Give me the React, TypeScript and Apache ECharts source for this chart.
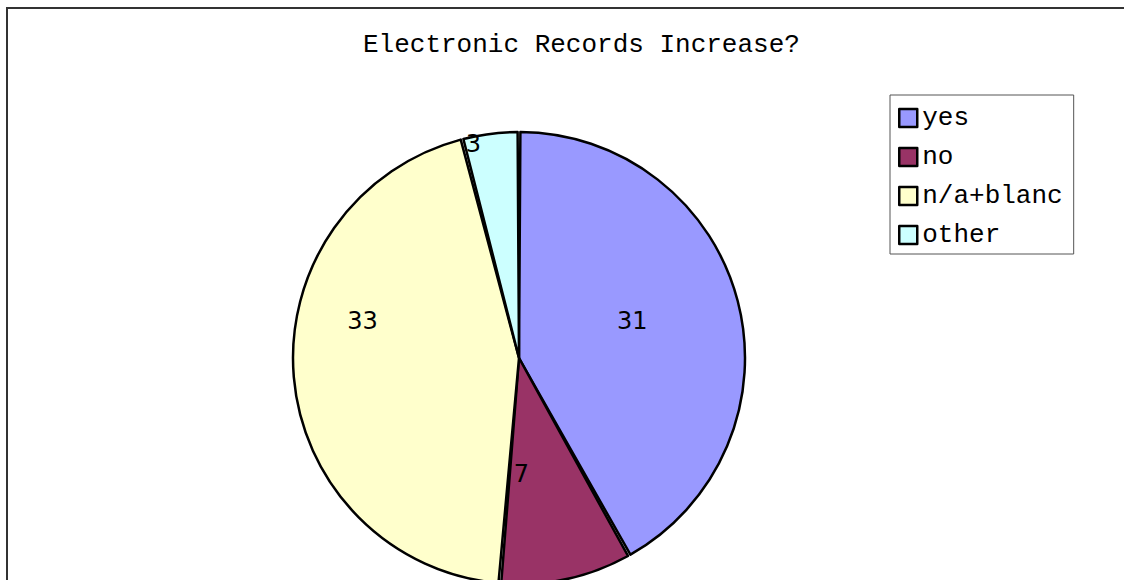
import React, { useEffect, useRef } from "react";
import * as echarts from "echarts";

// Survey answers
const categories = ["yes", "no", "n/a+blanc", "other"];
const counts = [31, 7, 33, 3];
const colors = ["#9999FF", "#993366", "#FFFFCC", "#CCFFFF"];
const titleText = "Electronic Records Increase?";

// Nudges for the value labels away from the default mid-radius spot
const labelNudges = [
  { dx: 1, dy: -8 },
  { dx: -22, dy: 3 },
  { dx: -41, dy: -47 },
  { dx: -31, dy: -99 },
];

const MONO = "'Courier New', 'Liberation Mono', monospace";
const SANS = "'DejaVu Sans', Verdana, sans-serif";

export default function App() {
  const ref = useRef<HTMLDivElement>(null);

  useEffect(() => {
    if (!ref.current) return;
    const chart = echarts.init(ref.current, undefined, { renderer: "svg" });
    chart.setOption({
      animation: false,
      backgroundColor: "#ffffff",
      title: {
        text: titleText,
        left: 358,
        top: 27,
        textStyle: {
          fontFamily: MONO,
          fontSize: 26,
          fontWeight: "normal",
          color: "#000",
        },
      },
      legend: {
        orient: "vertical",
        left: 890,
        top: 95,
        padding: [10, 11, 6, 8],
        itemGap: 13,
        itemWidth: 18,
        itemHeight: 18,
        icon: "rect",
        borderColor: "#555",
        borderWidth: 1,
        backgroundColor: "#fff",
        itemStyle: { borderColor: "#000", borderWidth: 2.5 },
        textStyle: {
          fontFamily: MONO,
          fontSize: 26,
          lineHeight: 26,
          color: "#000",
        },
        data: categories,
      },
      graphic: [
        {
          type: "polyline",
          shape: { points: [[7, 580], [7, 8], [1124, 8]] },
          style: { stroke: "#333", lineWidth: 2, fill: "none" },
          silent: true,
        },
      ],
      series: [
        {
          type: "pie",
          center: [519, 358],
          radius: [0, 226],
          startAngle: 90,
          clockwise: true,
          padAngle: 0.7,
          avoidLabelOverlap: false,
          itemStyle: { borderColor: "#000", borderWidth: 2.5 },
          label: {
            show: true,
            position: "inside",
            formatter: "{c}",
            fontFamily: SANS,
            fontSize: 24,
            color: "#000",
          },
          labelLine: { show: false },
          labelLayout: (params: any) => labelNudges[params.dataIndex],
          emphasis: { disabled: true },
          data: categories.map((name, i) => ({
            name,
            value: counts[i],
            itemStyle: { color: colors[i] },
          })),
        },
      ],
    });
    return () => chart.dispose();
  }, []);

  return (
    <div
      ref={ref}
      style={{ position: "absolute", left: 0, top: 0, width: 1124, height: 580 }}
    />
  );
}
